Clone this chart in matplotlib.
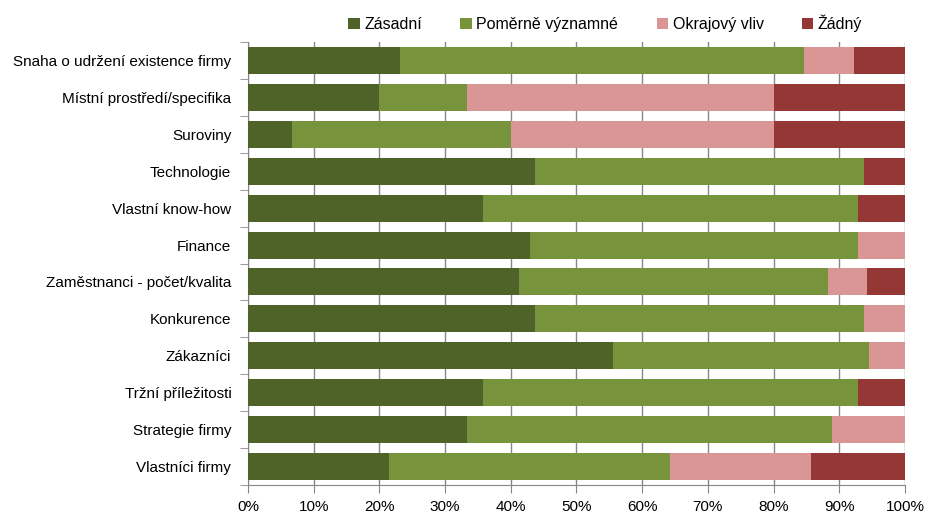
import numpy as np
import matplotlib
matplotlib.use("Agg")
import matplotlib.pyplot as plt
from matplotlib.ticker import PercentFormatter, FixedLocator

plt.rcParams['font.family'] = ['Liberation Sans', 'DejaVu Sans']

categories = [
    "Snaha o udržení existence firmy",
    "Místní prostředí/specifika",
    "Suroviny",
    "Technologie",
    "Vlastní know-how",
    "Finance",
    "Zaměstnanci - počet/kvalita",
    "Konkurence",
    "Zákazníci",
    "Tržní příležitosti",
    "Strategie firmy",
    "Vlastníci firmy",
]
zasadni = [23.1, 20.0, 6.7, 43.75, 35.7, 42.9, 41.2, 43.75, 55.6, 35.7, 33.3, 21.4]
pomerne = [61.5, 13.3, 33.3, 50.0, 57.1, 50.0, 47.1, 50.0, 38.9, 57.1, 55.6, 42.9]
okrajovy = [7.7, 46.7, 40.0, 0.0, 0.0, 7.1, 5.9, 6.25, 5.5, 0.0, 11.1, 21.4]
zadny = [7.7, 20.0, 20.0, 6.25, 7.2, 0.0, 5.8, 0.0, 0.0, 7.2, 0.0, 14.3]

series = [
    ("Zásadní", zasadni, "#4F6228"),
    ("Poměrně významné", pomerne, "#77933C"),
    ("Okrajový vliv", okrajovy, "#D99694"),
    ("Žádný", zadny, "#953735"),
]

fig = plt.figure(figsize=(9.37, 5.28), dpi=100)
ax = fig.add_axes([248 / 937, 43 / 528, 657 / 937, 443 / 528])

y = np.arange(len(categories))
left = np.zeros(len(categories))
for name, vals, col in series:
    vals = np.array(vals)
    ax.barh(y, vals, left=left, height=0.73, color=col, label=name, zorder=3)
    left += vals

ax.set_xlim(0, 100)
ax.set_ylim(len(categories) - 0.5, -0.5)
ax.xaxis.set_major_locator(FixedLocator(np.arange(0, 101, 10)))
ax.xaxis.set_major_formatter(PercentFormatter(decimals=0))
ax.grid(axis='x', color='#878787', linewidth=1, zorder=0)

ax.set_yticks(y)
ax.set_yticklabels(categories, fontsize=11)
ax.yaxis.set_minor_locator(FixedLocator(np.arange(-0.5, len(categories), 1)))
ax.tick_params(axis='y', which='major', length=0, pad=12)
ax.tick_params(axis='y', which='minor', length=6, color='#878787', direction='out')
ax.tick_params(axis='x', length=6, color='#878787', labelsize=11, pad=5)

for s in ['top', 'right']:
    ax.spines[s].set_visible(False)
for s in ['left', 'bottom']:
    ax.spines[s].set_color('#878787')

fig.legend(loc='upper center', bbox_to_anchor=(0.646, 1.0), ncol=4, frameon=False,
           fontsize=11.5, handlelength=0.7, handleheight=0.7, handletextpad=0.3,
           columnspacing=2.4)

fig.savefig("out.png", dpi=100)
